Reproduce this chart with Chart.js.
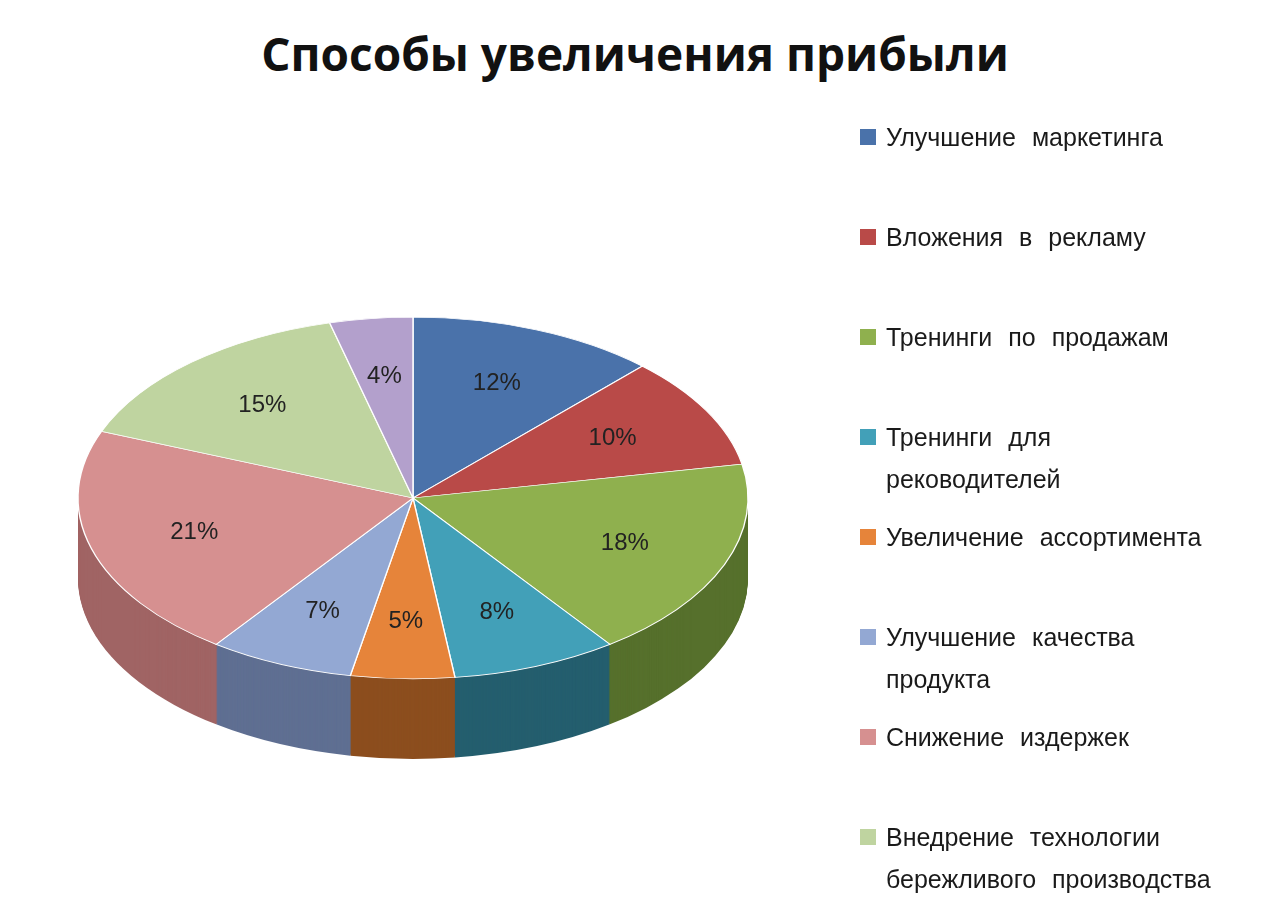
<!DOCTYPE html>
<html><head><meta charset="utf-8">
<script src="https://cdn.jsdelivr.net/npm/chart.js@4/dist/chart.umd.min.js"></script>
<style>
body{margin:0;background:#fff;width:1280px;height:920px;overflow:hidden;position:relative;font-family:"Liberation Sans",Arial,sans-serif}
#title{position:absolute;left:0;width:1270px;top:22px;text-align:center;font:bold 46px "Open Sans","Liberation Sans",sans-serif;color:#111}
#chartBox{position:absolute;left:0;top:0;width:1280px;height:920px}
#legend{position:absolute;left:860px;top:116px}
.item{display:flex;align-items:flex-start;height:100px;font-size:25px;line-height:42px;color:#1a1a1a;word-spacing:9px;white-space:pre}
.sw{width:16px;height:16px;margin:13px 10px 0 0;flex:none}
</style></head>
<body>
<div id="title">Способы увеличения прибыли</div>
<div id="chartBox"><canvas id="pie"></canvas></div>
<div id="legend"></div>
<script>
const labels = ['Улучшение маркетинга','Вложения в рекламу','Тренинги по продажам','Тренинги для\nреководителей','Увеличение ассортимента','Улучшение качества\nпродукта','Снижение издержек','Внедрение технологии\nбережливого производства','Прочее']
const values = [12,10,18,8,5,7,21,15,4]
const colors = ['#4a72aa','#b94a48','#8fb04e','#42a0b8','#e6843a','#93a8d3','#d69090','#bfd4a0','#b3a0cc']
const sideColors = ['#2e4a72','#7a2d2c','#56702c','#245e6e','#8c4e1e','#5f6f92','#a06464','#889b6c','#776890']
const legendCount = 8
const tilt = 0.54, depth = 80

const leg = document.getElementById('legend')
labels.slice(0, legendCount).forEach((l, i) => {
  const d = document.createElement('div'); d.className = 'item'
  d.innerHTML = `<div class="sw" style="background:${colors[i]}"></div><div></div>`
  d.lastChild.textContent = l
  leg.appendChild(d)
})

function arcPath(ctx, a){
  ctx.beginPath(); ctx.moveTo(a.x, a.y)
  ctx.arc(a.x, a.y, a.outerRadius, a.startAngle, a.endAngle)
  ctx.closePath()
}

const pie3d = {
  id: 'pie3d',
  beforeDatasetsDraw(chart){
    const ctx = chart.ctx
    const arcs = chart.getDatasetMeta(0).data
    const cx = arcs[0].x, cy = arcs[0].y
    for (let d = depth; d >= 1; d--){
      ctx.save()
      ctx.translate(cx, cy + d); ctx.scale(1, tilt); ctx.translate(-cx, -cy)
      arcs.forEach((a, i) => { arcPath(ctx, a); ctx.fillStyle = sideColors[i]; ctx.fill() })
      ctx.restore()
    }
    ctx.save()
    ctx.translate(cx, cy); ctx.scale(1, tilt); ctx.translate(-cx, -cy)
    arcs.forEach((a, i) => {
      arcPath(ctx, a); ctx.fillStyle = colors[i]; ctx.fill()
      ctx.strokeStyle = '#ffffff'; ctx.lineWidth = 1.4; ctx.stroke()
    })
    ctx.restore()
    ctx.font = '24px "Liberation Sans", Arial, sans-serif'
    ctx.fillStyle = '#222'; ctx.textAlign = 'center'; ctx.textBaseline = 'middle'
    arcs.forEach((a, i) => {
      const mid = (a.startAngle + a.endAngle) / 2
      const r = a.outerRadius * 0.68
      ctx.fillText(values[i] + '%', cx + Math.cos(mid) * r, cy + Math.sin(mid) * r * tilt)
    })
    return false
  }
}

new Chart(document.getElementById('pie'), {
  type: 'pie',
  data: { labels, datasets: [{ data: values, backgroundColor: colors, borderWidth: 0 }] },
  options: {
    responsive: true, maintainAspectRatio: false, animation: false,
    layout: { padding: { left: 78, right: 532, top: 163, bottom: 87 } },
    plugins: { legend: { display: false }, tooltip: { enabled: false } }
  },
  plugins: [pie3d]
})
</script>
</body></html>
